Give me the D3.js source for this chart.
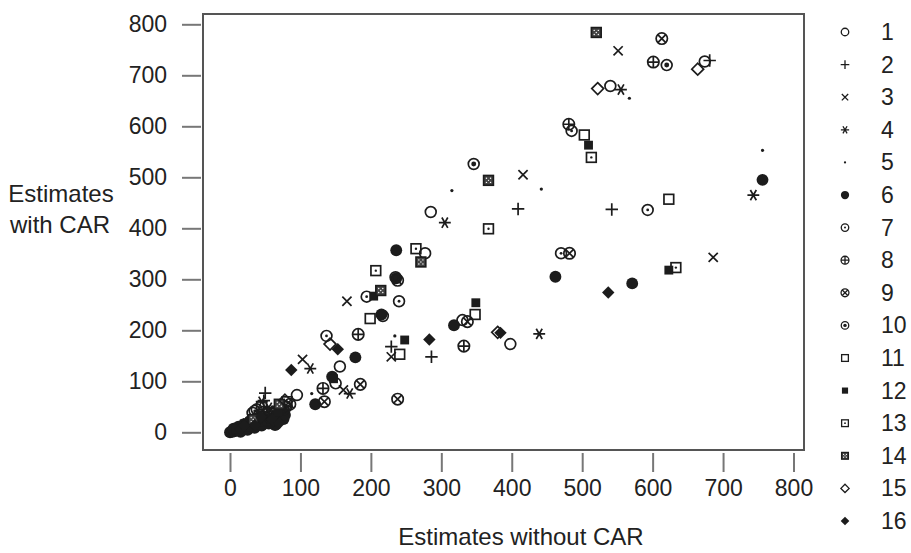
<!DOCTYPE html>
<html>
<head>
<meta charset="utf-8">
<script src="https://cdn.jsdelivr.net/npm/d3@7"></script>
<style>
  html, body { margin: 0; padding: 0; background: #fff; }
  svg { display: block; }
  text { font-family: "Liberation Sans", Arial, sans-serif; fill: #222; }
</style>
</head>
<body>
<svg id="chart" width="911" height="553"></svg>
<script>
// Group labels shown in the legend (one marker style per group)
const groupLabels = ["1","2","3","4","5","6","7","8","9","10","11","12","13","14","15","16"];

// Axis ticks
const xTicks = [0, 100, 200, 300, 400, 500, 600, 700, 800];
const yTicks = [0, 100, 200, 300, 400, 500, 600, 700, 800];

// [estimate without CAR, estimate with CAR] for each group
const series1  = [[674,727],[540,679],[285,432],[398,173],[330,220],[277,351],[217,228],[156,129],[150,96],[38,45],[95,73],[5,3],[28,20],[32,38],[78,50]];
const series2  = [[681,729],[409,438],[542,437],[229,168],[286,148],[50,77],[38,30],[15,10],[48,62]];
const series3  = [[551,748],[416,505],[686,343],[166,257],[229,148],[161,83],[103,143],[25,18],[58,45]];
const series4  = [[555,672],[305,411],[743,465],[439,193],[170,76],[114,125],[45,60],[52,28],[55,48]];
const series5  = [[567,655],[315,474],[442,477],[756,553],[234,189],[116,76],[10,8],[60,50]];
const series6  = [[756,495],[462,305],[571,292],[318,210],[236,357],[215,231],[178,147],[145,109],[121,55],[236,302],
                  [0,0],[3,1],[6,2],[9,4],[12,5],[15,7],[18,9],[21,10],[24,12],[27,14],[30,15],[34,17],[38,19],[42,21],
                  [46,23],[50,24],[55,26],[60,18],[64,14],[68,22],[70,30],[72,36],[74,42],[66,34],[62,28],[76,26],
                  [5,7],[12,11],[20,16],[28,22],[36,27],[15,1],[25,5],[35,9],[45,13],[55,17],[78,34]];
const series7  = [[470,351],[593,436],[485,591],[240,257],[194,266],[137,189],[42,35],[80,50],[35,42]];
const series8  = [[601,726],[481,604],[332,169],[182,192],[132,86],[48,40],[75,45]];
const series9  = [[613,772],[482,351],[337,217],[185,94],[134,60],[238,65],[238,298],[55,30],[85,55]];
const series10 = [[346,526],[620,720],[235,304],[18,12],[62,36]];
const series11 = [[503,583],[623,457],[199,223],[241,153],[348,231],[45,50],[22,14]];
const series12 = [[509,563],[623,318],[204,267],[248,181],[349,254],[147,105],[25,10],[45,20],[68,40],[8,6],[36,24]];
const series13 = [[367,399],[513,539],[633,323],[264,360],[207,317],[81,60],[52,22]];
const series14 = [[520,784],[367,494],[271,334],[214,278],[70,55],[33,25]];
const series15 = [[664,712],[522,674],[380,196],[142,173],[78,63],[50,35]];
const series16 = [[537,274],[384,195],[283,182],[153,163],[87,122],[15,6],[35,14],[60,25],[20,13],[44,30],[70,18]];

const allSeries = [series1, series2, series3, series4, series5, series6, series7, series8,
                   series9, series10, series11, series12, series13, series14, series15, series16];

const ink = "#1c1c1c";
const svg = d3.select("#chart");

const x = d3.scaleLinear().domain([0, 800]).range([230, 793.5]);
const y = d3.scaleLinear().domain([0, 800]).range([432.3, 24.3]);

// Plot frame
svg.append("rect")
  .attr("x", 203).attr("y", 14)
  .attr("width", 804 - 203).attr("height", 450 - 14)
  .attr("fill", "none").attr("stroke", "#555").attr("stroke-width", 2);

// Y axis
const yAxis = svg.append("g")
  .attr("transform", "translate(201,0)")
  .call(d3.axisLeft(y).tickValues(yTicks).tickSize(19).tickPadding(15).tickSizeOuter(0));
yAxis.select(".domain").remove();
yAxis.selectAll("line").attr("stroke", "#777").attr("stroke-width", 2);
yAxis.selectAll("text").style("font-size", "23px").attr("fill", "#222");

// X axis
const xAxis = svg.append("g")
  .attr("transform", "translate(0,453)")
  .call(d3.axisBottom(x).tickValues(xTicks).tickSize(19).tickPadding(8).tickSizeOuter(0));
xAxis.select(".domain").remove();
xAxis.selectAll("line").attr("stroke", "#777").attr("stroke-width", 2);
xAxis.selectAll("text").style("font-size", "23px").attr("fill", "#222");

// Axis titles
svg.append("text").attr("x", 521).attr("y", 545).attr("text-anchor", "middle")
  .style("font-size", "24px").text("Estimates without CAR");
const yTitle = svg.append("text").attr("text-anchor", "middle").style("font-size", "24px");
yTitle.append("tspan").attr("x", 61).attr("y", 202).text("Estimates");
yTitle.append("tspan").attr("x", 60).attr("y", 233).text("with CAR");

// Marker drawing: one glyph style per group
function drawMarker(g, k, s, sw) {
  const r = 5 * s;
  const line = (d) => g.append("path").attr("d", d).attr("fill", "none")
    .attr("stroke", ink).attr("stroke-width", sw).attr("stroke-linecap", "butt");
  const ring = (rr) => g.append("circle").attr("r", rr).attr("fill", "none")
    .attr("stroke", ink).attr("stroke-width", sw);
  const dot = (rr) => g.append("circle").attr("r", rr).attr("fill", ink);
  switch (k) {
    case 1: ring(r); break;
    case 2: { const a = r * 1.15; line(`M${-a},0H${a}M0,${-a}V${a}`); break; }
    case 3: { const a = r * 0.85; line(`M${-a},${-a}L${a},${a}M${-a},${a}L${a},${-a}`); break; }
    case 4: {
      const a = r * 1.1, c = a * Math.cos(Math.PI / 3), d = a * Math.sin(Math.PI / 3);
      line(`M${-a},0H${a}M${-c},${-d}L${c},${d}M${-c},${d}L${c},${-d}`); break;
    }
    case 5: dot(1.5 * s); break;
    case 6: dot(r * 1.1); break;
    case 7: ring(r); dot(Math.max(1, r * 0.26)); break;
    case 8: { ring(r * 1.05); const a = r * 1.05; line(`M${-a},0H${a}M0,${-a}V${a}`); break; }
    case 9: { ring(r * 1.05); const a = r * 0.74; line(`M${-a},${-a}L${a},${a}M${-a},${a}L${a},${-a}`); break; }
    case 10: ring(r); dot(r * 0.46); break;
    case 11: { const a = r * 0.9; g.append("rect").attr("x", -a).attr("y", -a).attr("width", 2 * a).attr("height", 2 * a)
      .attr("fill", "none").attr("stroke", ink).attr("stroke-width", sw); break; }
    case 12: { const a = r * 0.82; g.append("rect").attr("x", -a).attr("y", -a).attr("width", 2 * a).attr("height", 2 * a)
      .attr("fill", ink); break; }
    case 13: { const a = r * 0.9; g.append("rect").attr("x", -a).attr("y", -a).attr("width", 2 * a).attr("height", 2 * a)
      .attr("fill", "none").attr("stroke", ink).attr("stroke-width", sw); dot(Math.max(0.9, r * 0.22)); break; }
    case 14: { const a = r * 0.9; g.append("rect").attr("x", -a).attr("y", -a).attr("width", 2 * a).attr("height", 2 * a)
      .attr("fill", "#444").attr("stroke", ink).attr("stroke-width", sw);
      const b = a * 0.42;
      [[-b,-b],[b,-b],[-b,b],[b,b],[0,0]].forEach(p => g.append("circle").attr("cx", p[0]).attr("cy", p[1])
        .attr("r", Math.max(0.6, r * 0.13)).attr("fill", "#fff"));
      break; }
    case 15: { const a = r * 1.1; g.append("path").attr("d", `M0,${-a}L${a},0L0,${a}L${-a},0Z`)
      .attr("fill", "none").attr("stroke", ink).attr("stroke-width", sw); break; }
    case 16: { const a = r * 1.15; g.append("path").attr("d", `M0,${-a}L${a},0L0,${a}L${-a},0Z`)
      .attr("fill", ink); break; }
  }
}

// Data points
const pointLayer = svg.append("g");
allSeries.forEach((pts, i) => {
  pts.forEach(([vx, vy]) => {
    const g = pointLayer.append("g").attr("transform", `translate(${x(vx)},${y(vy)})`);
    drawMarker(g, i + 1, 1.08, 1.7);
  });
});

// Legend
const legendY = d3.scaleLinear().domain([0, 15]).range([32, 521]);
const legend = svg.append("g");
groupLabels.forEach((lab, i) => {
  const g = legend.append("g").attr("transform", `translate(845,${legendY(i)})`);
  drawMarker(g, i + 1, 0.75, 1.3);
  legend.append("text").attr("x", 881).attr("y", legendY(i)).attr("dy", "0.35em")
    .style("font-size", "23px").text(lab);
});
</script>
</body>
</html>
